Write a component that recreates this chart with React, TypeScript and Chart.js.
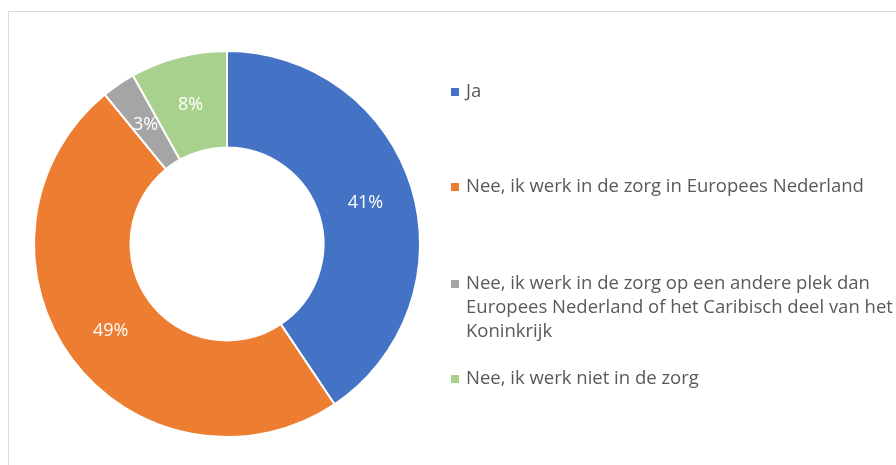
import React, { useEffect, useRef } from "react";
import { Chart, registerables } from "chart.js";

Chart.register(...registerables);

const categories = [
  "Ja",
  "Nee, ik werk in de zorg in Europees Nederland",
  "Nee, ik werk in de zorg op een andere plek dan Europees Nederland of het Caribisch deel van het Koninkrijk",
  "Nee, ik werk niet in de zorg",
];
const legendLines = [
  ["Ja"],
  ["Nee, ik werk in de zorg in Europees Nederland"],
  [
    "Nee, ik werk in de zorg op een andere plek dan",
    "Europees Nederland of het Caribisch deel van het",
    "Koninkrijk",
  ],
  ["Nee, ik werk niet in de zorg"],
];
const shares = [40.6, 48.5, 2.8, 8.1];
const colors = ["#4472C4", "#ED7D31", "#A5A5A5", "#A9D18E"];

const FONT = "'Open Sans', sans-serif";

const labelPlugin = {
  id: "sliceLabels",
  afterDatasetsDraw(chart: any) {
    const ctx = chart.ctx;
    const meta = chart.getDatasetMeta(0);
    const total = shares.reduce((a, b) => a + b, 0);
    ctx.save();
    ctx.fillStyle = "#ffffff";
    ctx.font = `18px ${FONT}`;
    ctx.textAlign = "center";
    ctx.textBaseline = "middle";
    meta.data.forEach((arc: any, i: number) => {
      const p = arc.tooltipPosition();
      const pct = Math.round((shares[i] / total) * 100);
      ctx.fillText(pct + "%", p.x, p.y + 1);
    });
    ctx.restore();
  },
};

const legendPlugin = {
  id: "sideLegend",
  afterDraw(chart: any) {
    const ctx = chart.ctx;
    const startY = [92, 187, 284, 379];
    ctx.save();
    ctx.font = `18.5px ${FONT}`;
    ctx.textBaseline = "middle";
    ctx.textAlign = "left";
    legendLines.forEach((lines, i) => {
      ctx.fillStyle = colors[i];
      ctx.fillRect(451, startY[i] - 4, 8, 8);
      ctx.fillStyle = "#595959";
      lines.forEach((ln, j) => {
        ctx.fillText(ln, 466, startY[i] + j * 24);
      });
    });
    ctx.restore();
  },
};

export default function App() {
  const ref = useRef<HTMLCanvasElement>(null);
  useEffect(() => {
    if (!ref.current) return;
    const chart = new Chart(ref.current, {
      type: "doughnut",
      data: {
        labels: categories,
        datasets: [
          {
            data: shares,
            backgroundColor: colors,
            borderColor: "#ffffff",
            borderWidth: 2,
          },
        ],
      },
      options: {
        responsive: false,
        animation: false,
        cutout: "50%",
        layout: { padding: { left: 33, top: 50, right: 475, bottom: 27 } },
        plugins: { legend: { display: false }, tooltip: { enabled: false } },
      },
      plugins: [labelPlugin, legendPlugin],
    });
    return () => chart.destroy();
  }, []);
  return (
    <div style={{ position: "fixed", left: 0, top: 0, width: 896, height: 465, background: "#fff", overflow: "hidden" }}>
      <div
        style={{
          position: "absolute",
          left: 8,
          top: 11,
          width: 900,
          height: 470,
          border: "1px solid #d9d9d9",
        }}
      />
      <canvas ref={ref} width={896} height={465} style={{ position: "absolute", left: 0, top: 0 }} />
    </div>
  );
}
